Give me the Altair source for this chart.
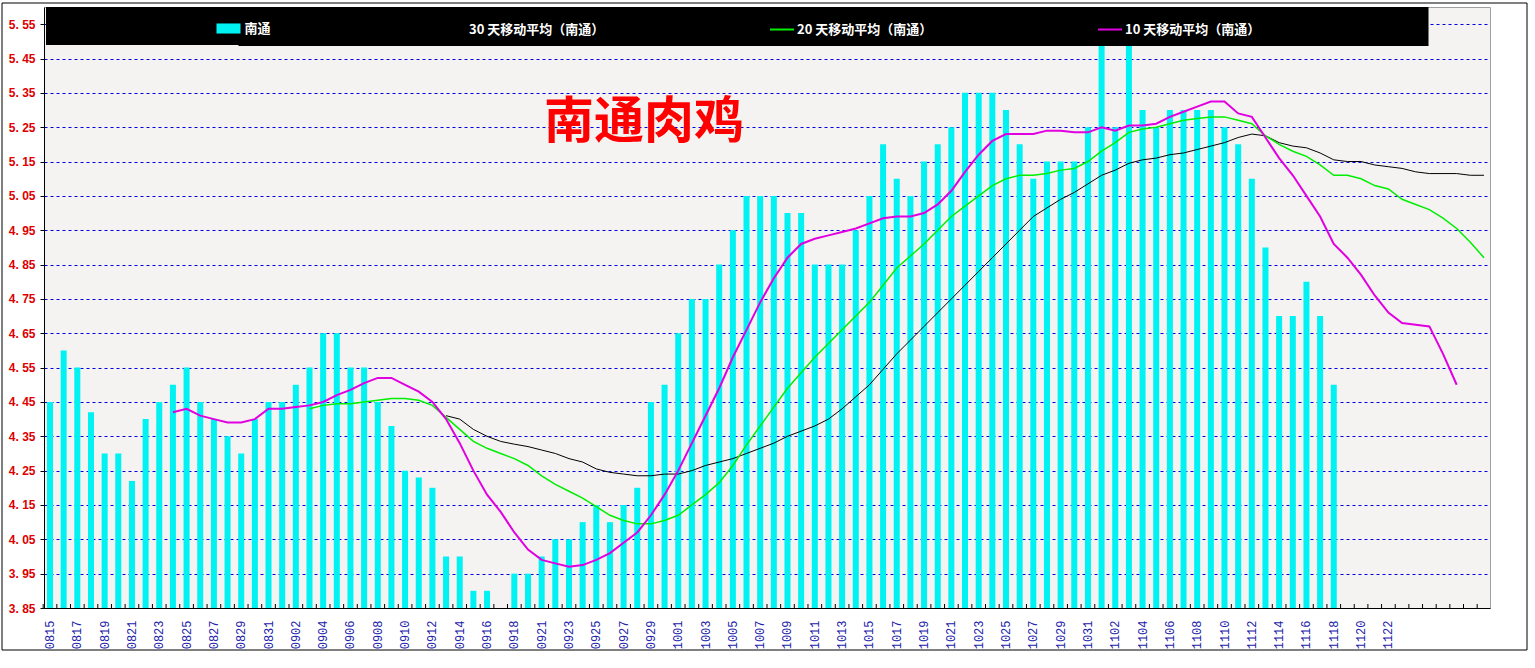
import altair as alt
import pandas as pd

# ---------------- data ----------------
dates = ([f"08{d:02d}" for d in range(15, 32)] + [f"09{d:02d}" for d in range(1, 19)] + ["0920"]
         + [f"09{d:02d}" for d in range(21, 31)] + [f"10{d:02d}" for d in range(1, 32)]
         + [f"11{d:02d}" for d in range(1, 30)])

price = [4.45, 4.60, 4.55, 4.42, 4.30, 4.30, 4.22, 4.40, 4.45, 4.50,
         4.55, 4.45, 4.40, 4.35, 4.30, 4.40, 4.45, 4.45, 4.50, 4.55,
         4.65, 4.65, 4.55, 4.55, 4.45, 4.38, 4.25, 4.23, 4.20, 4.00,
         4.00, 3.90, 3.90, None, 3.95, 3.95, 4.00, 4.05, 4.05, 4.10,
         4.15, 4.10, 4.15, 4.20, 4.45, 4.50, 4.65, 4.75, 4.75, 4.85,
         4.95, 5.05, 5.05, 5.05, 5.00, 5.00, 4.85, 4.85, 4.85, 4.95,
         5.05, 5.20, 5.10, 5.05, 5.15, 5.20, 5.25, 5.35, 5.35, 5.35,
         5.30, 5.20, 5.10, 5.15, 5.15, 5.15, 5.25, 5.55, 5.25, 5.55,
         5.30, 5.25, 5.30, 5.30, 5.30, 5.30, 5.25, 5.20, 5.10, 4.90,
         4.70, 4.70, 4.80, 4.70, 4.50, None, None, None, None, None,
         None, None, None, None, None, None]

ma10 = [None, None, None, None, None, None, None, None, None, 4.42,
        4.43, 4.41, 4.40, 4.39, 4.39, 4.40, 4.43, 4.43, 4.435, 4.44,
        4.45, 4.47, 4.485, 4.505, 4.52, 4.52, 4.50, 4.48, 4.45, 4.40,
        4.33, 4.25, 4.18, 4.13, 4.07, 4.02, 3.99, 3.98, 3.97, 3.975,
        3.99, 4.01, 4.04, 4.07, 4.12, 4.18, 4.25, 4.33, 4.41, 4.49,
        4.58, 4.66, 4.74, 4.81, 4.87, 4.91, 4.925, 4.935, 4.945, 4.955,
        4.97, 4.985, 4.99, 4.99, 5.00, 5.025, 5.065, 5.12, 5.17, 5.21,
        5.23, 5.23, 5.23, 5.24, 5.24, 5.235, 5.235, 5.25, 5.24, 5.255,
        5.255, 5.26, 5.28, 5.295, 5.31, 5.325, 5.325, 5.29, 5.28, 5.22,
        5.16, 5.11, 5.05, 4.99, 4.91, 4.87, 4.82, 4.76, 4.71, 4.68,
        4.675, 4.67, 4.59, 4.50, None, None]

ma20 = [None, None, None, None, None, None, None, None, None, None,
        None, None, None, None, None, None, None, None, None, 4.43,
        4.44, 4.445, 4.445, 4.45, 4.455, 4.46, 4.46, 4.455, 4.44, 4.405,
        4.37, 4.335, 4.315, 4.30, 4.285, 4.265, 4.235, 4.21, 4.19, 4.17,
        4.145, 4.12, 4.105, 4.095, 4.095, 4.105, 4.12, 4.15, 4.18, 4.215,
        4.265, 4.325, 4.38, 4.435, 4.49, 4.535, 4.58, 4.62, 4.66, 4.70,
        4.74, 4.79, 4.84, 4.875, 4.91, 4.95, 4.99, 5.02, 5.05, 5.08,
        5.10, 5.11, 5.11, 5.115, 5.125, 5.13, 5.15, 5.18, 5.205, 5.235,
        5.245, 5.25, 5.26, 5.27, 5.275, 5.28, 5.28, 5.27, 5.26, 5.225,
        5.20, 5.18, 5.165, 5.14, 5.11, 5.11, 5.10, 5.08, 5.07, 5.04,
        5.025, 5.01, 4.985, 4.955, 4.915, 4.87]

ma30 = [None, None, None, None, None, None, None, None, None, None,
        None, None, None, None, None, None, None, None, None, None,
        None, None, None, None, None, None, None, None, None, 4.41,
        4.40, 4.37, 4.35, 4.335, 4.327, 4.32, 4.31, 4.30, 4.285, 4.275,
        4.255, 4.245, 4.24, 4.235, 4.235, 4.24, 4.24, 4.25, 4.265, 4.275,
        4.285, 4.30, 4.315, 4.33, 4.35, 4.365, 4.38, 4.40, 4.43, 4.465,
        4.50, 4.545, 4.59, 4.63, 4.67, 4.71, 4.75, 4.79, 4.83, 4.87,
        4.91, 4.95, 4.99, 5.015, 5.04, 5.06, 5.085, 5.11, 5.125, 5.145,
        5.155, 5.16, 5.17, 5.175, 5.185, 5.195, 5.205, 5.22, 5.23, 5.225,
        5.205, 5.195, 5.19, 5.175, 5.155, 5.15, 5.15, 5.14, 5.135, 5.13,
        5.12, 5.115, 5.115, 5.115, 5.11, 5.11]

bar_name = "南通"
series_names = ["30 天移动平均（南通）", "20 天移动平均（南通）", "10 天移动平均（南通）"]
series_colors = ["#000000", "#00ee00", "#e000e0"]
series_widths = [1, 2, 2]
y_ticks = [3.85, 3.95, 4.05, 4.15, 4.25, 4.35, 4.45, 4.55, 4.65, 4.75, 4.85,
           4.95, 5.05, 5.15, 5.25, 5.35, 5.45, 5.55]
chart_title = "南通肉鸡"

# ---------------- tables ----------------
bars_df = pd.DataFrame({"date": dates, "price": price, "s": bar_name})
rows = []
for name, arr in zip(series_names, [ma30, ma20, ma10]):
    for d, v in zip(dates, arr):
        if v is not None:
            rows.append({"date": d, "series": name, "value": v})
lines_df = pd.DataFrame(rows)

shown = [d for i, d in enumerate(dates) if i % 2 == 0 and i <= 98]
label_expr = "indexof([" + ",".join(f"'{s}'" for s in shown) + "], datum.value) >= 0 ? datum.value : ''"

# an invisible, label-less first entry lets the line legend's black band start further left
spacer = " "
legend_domain = [spacer] + series_names
legend_range = ["#000000"] + series_colors

W, H = 1446, 601
x_scale = alt.Scale(domain=dates, paddingInner=0.56, paddingOuter=0.22)
y_scale = alt.Scale(domain=[3.85, 5.60], nice=False, zero=False)

x_enc = alt.X("date:O", scale=x_scale, sort=dates,
              axis=alt.Axis(title=None, labelAngle=-90, labelExpr=label_expr, labelOverlap=False,
                            ticks=False, tickSize=0, labelPadding=12, domainColor="black",
                            labelFont="Liberation Mono", labelFontSize=12, labelColor="#2222aa",
                            grid=False))

y_axis = alt.Axis(title=None, values=y_ticks, domainColor="black", tickColor="black",
                  tickSize=4, labelPadding=5, labelOverlap=False,
                  labelExpr="replace(format(datum.value, '.2f'), '.', '. ')",
                  labelFont="Liberation Sans", labelFontWeight="bold", labelFontSize=12,
                  labelColor="#dd0000", grid=True, gridColor="#0000e0", gridDash=[3, 3],
                  gridWidth=1, gridOpacity=1)

legend_common = dict(orient="none", legendY=0, fillColor="black", padding=9.5,
                     labelFont="Noto Sans CJK SC", labelFontWeight="bold", labelFontSize=13,
                     labelColor="white", title=" ", titleFontSize=12, titleColor="black")

bars = alt.Chart(bars_df).mark_bar().encode(
    x=x_enc,
    y=alt.Y("price:Q", scale=y_scale, axis=y_axis),
    y2=alt.datum(3.85),
    fill=alt.Fill("s:N", scale=alt.Scale(domain=[bar_name], range=["#00f2f2"]),
                  legend=alt.Legend(legendX=2, titleOrient="left", titlePadding=161,
                                    labelOffset=4,
                                    symbolType="M-1,-0.42L1,-0.42L1,0.42L-1,0.42Z",
                                    symbolSize=576, symbolStrokeWidth=0, symbolOpacity=1,
                                    zindex=2, **legend_common)),
)

lines = alt.Chart(lines_df).mark_line().encode(
    x=alt.X("date:O", scale=x_scale, sort=dates),
    y=alt.Y("value:Q", scale=y_scale, axis=y_axis),
    stroke=alt.Stroke("series:N", scale=alt.Scale(domain=legend_domain, range=legend_range),
                      legend=alt.Legend(legendX=194.5, direction="horizontal", columns=4,
                                        titleOrient="right", titlePadding=159,
                                        labelOffset=2, labelLimit=800, columnPadding=161,
                                        labelExpr="datum.label == ' ' ? '' : datum.label",
                                        symbolType="stroke", symbolSize=576, symbolStrokeWidth=2,
                                        zindex=1, **legend_common)),
    strokeWidth=alt.StrokeWidth("series:N", scale=alt.Scale(domain=series_names, range=series_widths),
                                legend=None),
)

ticks = alt.Chart(bars_df).mark_rule(color="black", xOffset=-6.83, strokeWidth=1).encode(
    x=alt.X("date:O", scale=x_scale, sort=dates),
    y=alt.value(H),
    y2=alt.value(H - 4),
)

title_mark = alt.Chart(pd.DataFrame({"t": [chart_title]})).mark_text(
    font="Noto Sans CJK SC", fontSize=50, fontWeight="bold", color="#ff0000",
    align="center", baseline="middle",
).encode(text="t:N", x=alt.value(600), y=alt.value(116))

frame = alt.Chart(pd.DataFrame({"a": [0]})).mark_rect(
    fill="transparent", stroke="black", strokeWidth=1
).encode(x=alt.value(-42), x2=alt.value(1483), y=alt.value(-4), y2=alt.value(643))

chart = alt.layer(bars, ticks, lines, title_mark, frame).properties(
    width=W, height=H,
    autosize=alt.AutoSizeParams(type="none"),
    padding={"left": 44, "top": 7, "right": 45, "bottom": 60},
    background="white",
).configure_view(fill="#f5f2f2", stroke="#a0a0a0", strokeWidth=1)

chart.save("out.html", embed_options={"renderer": "svg", "actions": False})
